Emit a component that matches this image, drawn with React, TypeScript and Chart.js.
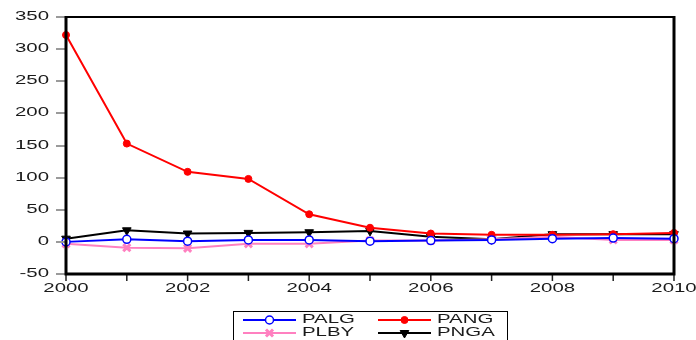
import React, { useEffect, useRef } from "react";
import { Chart, registerables } from "chart.js";
import { drawPoint } from "chart.js/helpers";

Chart.register(...registerables);

const years = [2000, 2001, 2002, 2003, 2004, 2005, 2006, 2007, 2008, 2009, 2010];
const palg = [0, 4, 1, 3, 3, 1, 2, 3, 5, 6, 5];
const pang = [322, 153, 109, 98, 43, 22, 13, 11, 11, 12, 14];
const plby = [-3, -9, -10, -3, -3, 2, 2, 4, 8, 3, 3];
const pnga = [5, 18, 13, 14, 15, 17, 8, 4, 12, 12, 12];
const yTicks = [-50, 0, 50, 100, 150, 200, 250, 300, 350];
const xLabels = [2000, 2002, 2004, 2006, 2008, 2010];

const FONT = '12px "Liberation Sans", Arial, sans-serif';
const SX = 1.7;

function stretchedText(ctx: CanvasRenderingContext2D, s: string, x: number, y: number, align: CanvasTextAlign) {
  ctx.save();
  ctx.translate(x, y);
  ctx.scale(SX, 1);
  ctx.font = FONT;
  ctx.fillStyle = "#1a1a1a";
  ctx.textAlign = align;
  ctx.textBaseline = "middle";
  ctx.fillText(s, 0, 0);
  ctx.restore();
}

const decorPlugin = {
  id: "decor",
  afterDraw(chart: any) {
    const ctx: CanvasRenderingContext2D = chart.ctx;
    const { left, right, top, bottom } = chart.chartArea;
    const xs = chart.scales.x;
    const ys = chart.scales.y;
    ctx.save();
    // y ticks
    ctx.strokeStyle = "#9a9a9a";
    ctx.lineWidth = 2;
    yTicks.forEach((v) => {
      const py = Math.round(ys.getPixelForValue(v));
      ctx.beginPath();
      ctx.moveTo(56, py);
      ctx.lineTo(left, py);
      ctx.stroke();
      stretchedText(ctx, String(v), 49, py, "right");
    });
    // x ticks
    ctx.strokeStyle = "#222";
    ctx.lineWidth = 1.5;
    years.forEach((v) => {
      const px = xs.getPixelForValue(v);
      ctx.beginPath();
      ctx.moveTo(px, bottom);
      ctx.lineTo(px, bottom + 7);
      ctx.stroke();
    });
    xLabels.forEach((v) => {
      stretchedText(ctx, String(v), xs.getPixelForValue(v), 289, "center");
    });
    // frame
    ctx.strokeStyle = "#000";
    ctx.lineWidth = 2;
    ctx.beginPath();
    ctx.moveTo(left, top);
    ctx.lineTo(right, top);
    ctx.stroke();
    ctx.lineWidth = 3;
    ctx.beginPath();
    ctx.moveTo(left, top - 1);
    ctx.lineTo(left, bottom);
    ctx.lineTo(right, bottom);
    ctx.lineTo(right, top - 1);
    ctx.stroke();

    // legend
    ctx.lineWidth = 1;
    ctx.strokeStyle = "#000";
    ctx.strokeRect(233.5, 311.5, 274, 40);
    const items = chart.data.datasets.map((ds: any, i: number) => ({ ds, i }));
    const cols = [{ l0: 243, l1: 296, tx: 302 }, { l0: 378, l1: 431, tx: 437 }];
    const rows = [320, 333];
    items.forEach(({ ds, i }: any) => {
      const c = cols[i % 2];
      const r = rows[Math.floor(i / 2)];
      ctx.strokeStyle = ds.borderColor;
      ctx.lineWidth = 2;
      ctx.beginPath();
      ctx.moveTo(c.l0, r);
      ctx.lineTo(c.l1, r);
      ctx.stroke();
      ctx.fillStyle = ds.pointBackgroundColor;
      ctx.strokeStyle = ds.borderColor;
      ctx.lineWidth = ds.pointBorderWidth;
      drawPoint(ctx, { pointStyle: ds.pointStyle, rotation: ds.pointRotation || 0, radius: ds.pointRadius, borderWidth: ds.pointBorderWidth } as any, (c.l0 + c.l1) / 2, r);
      stretchedText(ctx, ds.label, c.tx, r, "left");
    });
    ctx.restore();
  },
};

export default function App() {
  const ref = useRef<HTMLCanvasElement>(null);
  useEffect(() => {
    const chart = new Chart(ref.current!, {
      type: "line",
      data: {
        labels: years,
        datasets: [
          {
            label: "PALG",
            data: years.map((y, i) => ({ x: y, y: palg[i] })),
            borderColor: "#0000ff",
            backgroundColor: "#0000ff",
            borderWidth: 2,
            pointStyle: "circle",
            pointRadius: 4,
            pointBackgroundColor: "#ffffff",
            pointBorderColor: "#0000ff",
            pointBorderWidth: 1.5,
            clip: false,
          } as any,
          {
            label: "PANG",
            data: years.map((y, i) => ({ x: y, y: pang[i] })),
            borderColor: "#ff0000",
            backgroundColor: "#ff0000",
            borderWidth: 2,
            pointStyle: "circle",
            pointRadius: 3.5,
            pointBackgroundColor: "#ff0000",
            pointBorderColor: "#ff0000",
            pointBorderWidth: 1,
            clip: false,
          },
          {
            label: "PLBY",
            data: years.map((y, i) => ({ x: y, y: plby[i] })),
            borderColor: "#ff80c0",
            backgroundColor: "#ff80c0",
            borderWidth: 2,
            pointStyle: "crossRot",
            pointRadius: 5,
            pointBackgroundColor: "#ff80c0",
            pointBorderColor: "#ff80c0",
            pointBorderWidth: 3,
            clip: false,
          },
          {
            label: "PNGA",
            data: years.map((y, i) => ({ x: y, y: pnga[i] })),
            borderColor: "#000000",
            backgroundColor: "#000000",
            borderWidth: 2,
            pointStyle: "triangle",
            pointRotation: 180,
            pointRadius: 5,
            pointBackgroundColor: "#000000",
            pointBorderColor: "#000000",
            pointBorderWidth: 1,
            clip: false,
          },
        ],
      },
      options: {
        responsive: false,
        animation: false,
        events: [],
        layout: { padding: { left: 66, right: 22, top: 17, bottom: 66 } },
        plugins: { legend: { display: false }, tooltip: { enabled: false } },
        scales: {
          x: { type: "linear", min: 2000, max: 2010, display: false },
          y: { type: "linear", min: -50, max: 350, display: false },
        },
      },
      plugins: [decorPlugin],
    });
    return () => chart.destroy();
  }, []);
  return (
    <div style={{ position: "fixed", left: 0, top: 0, width: 696, height: 340, background: "#fff" }}>
      <canvas ref={ref} width={696} height={340} style={{ display: "block" }} />
    </div>
  );
}
